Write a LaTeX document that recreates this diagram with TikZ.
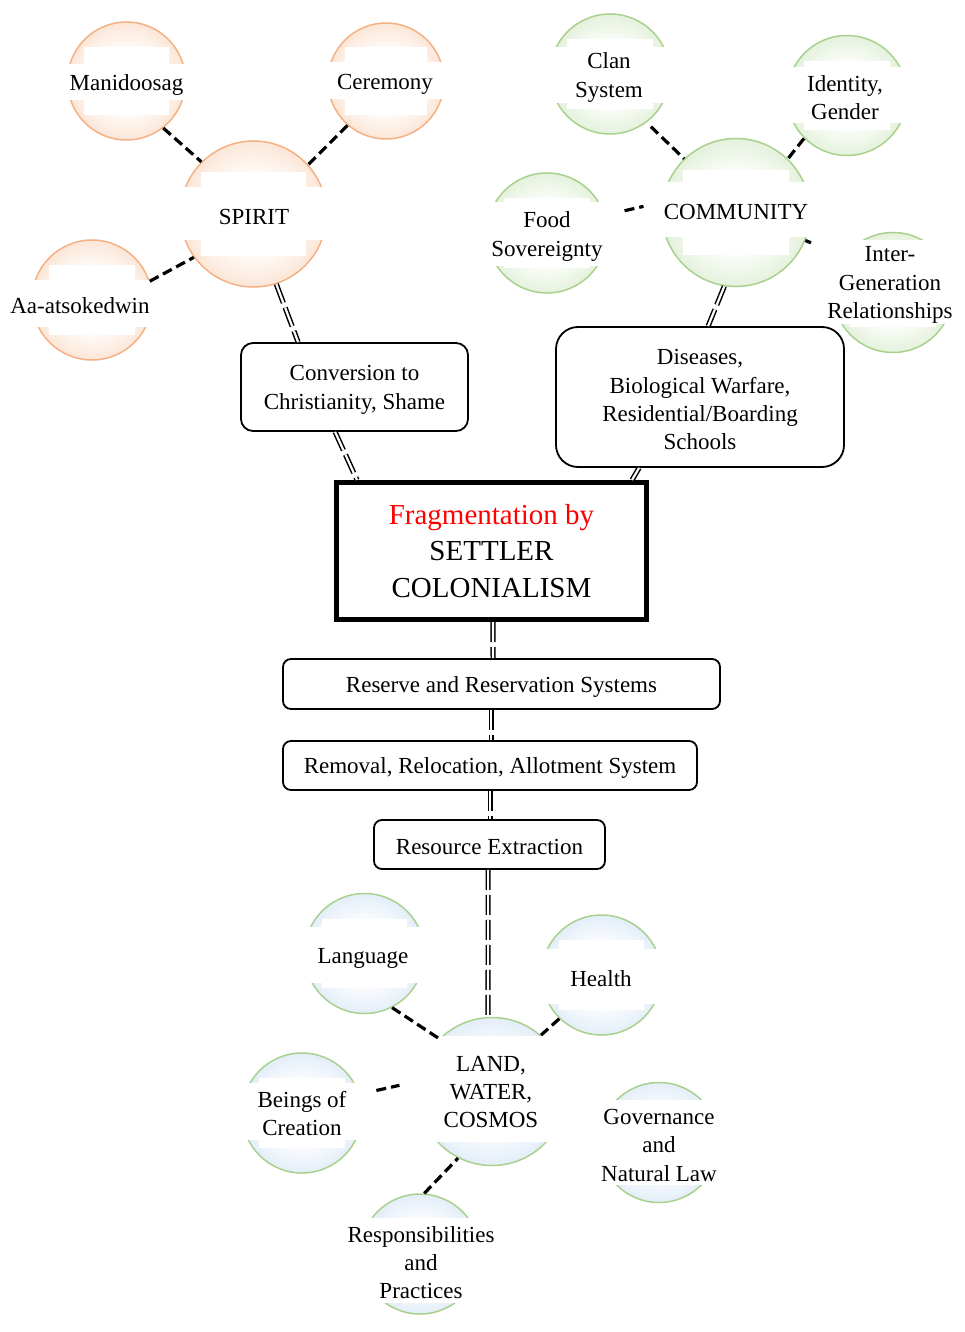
\documentclass[tikz,border=0pt]{standalone}
\usepackage{fontspec}
\setmainfont{Liberation Serif}
\definecolor{orline}{HTML}{F4B183}
\definecolor{orfill}{HTML}{F5B68A}
\definecolor{grline}{HTML}{A9D18E}
\definecolor{grfill}{HTML}{B2D79A}
\definecolor{blfill}{HTML}{AFCDEB}
\pgfdeclareradialshading{orball}{\pgfpoint{0bp}{0bp}}{color(0bp)=(white); color(12bp)=(white); color(50bp)=(orfill)}
\pgfdeclareradialshading{grball}{\pgfpoint{0bp}{0bp}}{color(0bp)=(white); color(12bp)=(white); color(50bp)=(grfill)}
\pgfdeclareradialshading{blball}{\pgfpoint{0bp}{0bp}}{color(0bp)=(white); color(12bp)=(white); color(50bp)=(blfill)}
\newcommand{\fsn}{\fontsize{23}{28.3}\selectfont}
\newcommand{\fsb}{\fontsize{29}{36.5}\selectfont}
\newcommand{\dn}{\rule{0pt}{21pt}}
\begin{document}
\begin{tikzpicture}[x=1pt,y=-1pt,
  circ/.style={circle, line width=1.5pt, inner sep=0pt, minimum size={2*#1}},
  orc/.style={circ=#1, draw=orline, shading=orball},
  grc/.style={circ=#1, draw=grline, shading=grball},
  blc/.style={circ=#1, draw=grline, shading=blball},
  inbox/.style={fill=white, inner sep=0pt, minimum width={1.43*#1}, minimum height={1.16*#1}},
  band/.style={fill=white, inner xsep=3pt, inner ysep=0pt, align=center, font=\fsn, minimum height=#1},
  rbox/.style={draw, line width=1.8pt, fill=white, align=center, font=\fsn, inner sep=0pt},
  dline/.style={line width=3.2pt, dash pattern=on 10pt off 5pt},
  dbl/.style={double, double distance=2.2pt, line width=1.5pt, dash pattern=on 20pt off 5pt}]
\useasboundingbox (0,0) rectangle (964,1332);
% circles
\node[orc=59] (mani) at (126.5,81) {};
\node[orc=58] (cer) at (386,81) {};
\node[orc=73] (spirit) at (253.5,214) {};
\node[orc=60] (aa) at (92,300) {};
\node[grc=60] (clan) at (610,74) {};
\node[grc=60] (ident) at (847,95.5) {};
\node[grc=74] (comm) at (736,212.5) {};
\node[grc=60] (food) at (547,233) {};
\node[grc=60] (inter) at (893,292.5) {};
\node[blc=60] (lang) at (364.5,953.5) {};
\node[blc=60] (health) at (601.5,975) {};
\node[blc=74] (land) at (492,1091.5) {};
\node[blc=60] (beings) at (302,1113) {};
\node[blc=60] (gov) at (659,1142.5) {};
\node[blc=60] (resp) at (420,1254) {};
% inner white boxes
\node[inbox=59] (mani-i) at (mani) {};
\node[inbox=58] (cer-i) at (cer) {};
\node[inbox=73] (spirit-i) at (spirit) {};
\node[inbox=60] (aa-i) at (aa) {};
\node[inbox=60] (clan-i) at (clan) {};
\node[inbox=60] (ident-i) at (ident) {};
\node[inbox=74] (comm-i) at (comm) {};
\node[inbox=60] (food-i) at (food) {};
\node[inbox=60] (inter-i) at (inter) {};
\node[inbox=60] (lang-i) at (lang) {};
\node[inbox=60] (health-i) at (health) {};
\node[inbox=74] (land-i) at (land) {};
\node[inbox=60] (beings-i) at (beings) {};
\node[inbox=60] (gov-i) at (gov) {};
\node[inbox=60] (resp-i) at (resp) {};
% bands with text
\node[band=36, minimum width=126] (mani-t) at (126.5,82) {\dn Manidoosag};
\node[band=37, minimum width=124] (cer-t) at (385,81) {\dn Ceremony};
\node[band=53, minimum width=154] (spirit-t) at (254,214) {\dn SPIRIT};
\node[band=47, minimum width=126] (aa-t) at (80,303.5) {\dn Aa-atsokedwin};
\node[band=56, minimum width=128] (clan-t) at (609,75) {\dn Clan\\System};
\node[band=56, minimum width=128] (ident-t) at (845,95) {\dn Identity,\\Gender};
\node[band=55, minimum width=156] (comm-t) at (736,209.5) {\dn COMMUNITY};
\node[band=63, minimum width=128] (food-t) at (547,234) {\dn Food\\Sovereignty};
\node[band=84, minimum width=128] (inter-t) at (890,282) {\dn Inter-\\Generation\\Relationships};
\node[band=56, minimum width=128] (lang-t) at (363,955) {\dn Language};
\node[band=55, minimum width=128] (health-t) at (601,976) {\dn Health};
\node[band=106, minimum width=156] (land-t) at (491,1089) {\dn LAND,\\WATER,\\COSMOS};
\node[band=57, minimum width=128] (beings-t) at (302,1111) {\dn Beings of\\Creation};
\node[band=85, minimum width=128] (gov-t) at (659,1142.5) {\dn Governance\\and\\Natural Law};
\node[band=85, minimum width=128] (resp-t) at (421,1260) {\dn Responsibilities\\and\\Practices};
% boxes
\node[rbox, rounded corners=12pt, minimum width=227, minimum height=88] (conv) at (354.5,387) {\dn Conversion to\\Christianity, Shame};
\node[rbox, rounded corners=22pt, minimum width=288, minimum height=140] (dis) at (700,397) {\dn Diseases,\\Biological Warfare,\\Residential/Boarding\\Schools};
\node[draw, line width=5pt, fill=white, minimum width=310, minimum height=137, align=center, font=\fsb, inner sep=0pt] (frag) at (491.5,551) {\textcolor{red}{Fragmentation by}\\SETTLER\\COLONIALISM};
\node[rbox, rounded corners=8pt, minimum width=437, minimum height=50] (res) at (501.5,684) {\dn Reserve and Reservation Systems};
\node[rbox, rounded corners=8pt, minimum width=414, minimum height=49] (rem) at (490,765.5) {\dn Removal, Relocation, Allotment System};
\node[rbox, rounded corners=8pt, minimum width=231, minimum height=49] (ext) at (489.5,844.5) {\dn Resource Extraction};
% double connectors
\draw[dbl] (spirit.-72) -- ([xshift=58pt]conv.north west);
\draw[dbl] ([xshift=95pt]conv.south west) -- ([xshift=23pt]frag.north west);
\draw[dbl] (comm.261) -- ([xshift=153pt]dis.north west);
\draw[dbl] ([xshift=84pt]dis.south west) -- ([xshift=-17pt]frag.north east);
\draw[dbl] ([xshift=159pt]frag.south west) -- ([xshift=211pt]res.north west);
\draw[dbl] ([xshift=209pt]res.south west) -- ([xshift=209pt]rem.north west);
\draw[dbl] ([xshift=208pt]rem.south west) -- ([xshift=117pt]ext.north west);
\draw[dbl] ([xshift=115pt]ext.south west) -- (land.93);
% dashed connectors
\draw[dline] (mani.-52) -- (spirit.135);
\draw[dline] (cer.229) -- (spirit.42);
\draw[dline] (aa.18) -- (spirit.216);
\draw[dline, shorten <=6pt] (clan.-53) -- (comm.134);
\draw[dline] (ident.225) -- (comm.46);
\draw[dline, shorten <=20pt, shorten >=19pt] (food.17) -- (comm.172);
\draw[dline, shorten >=36pt] (comm.-22) -- (inter.143);
\draw[dline] (lang.-63) -- (land.135);
\draw[dline] (health.226) -- (land.49);
\draw[dline, shorten <=17pt, shorten >=19pt] (beings.18) -- (land.172);
\draw[dline] (resp.86) -- (land.243);
\end{tikzpicture}
\end{document}
